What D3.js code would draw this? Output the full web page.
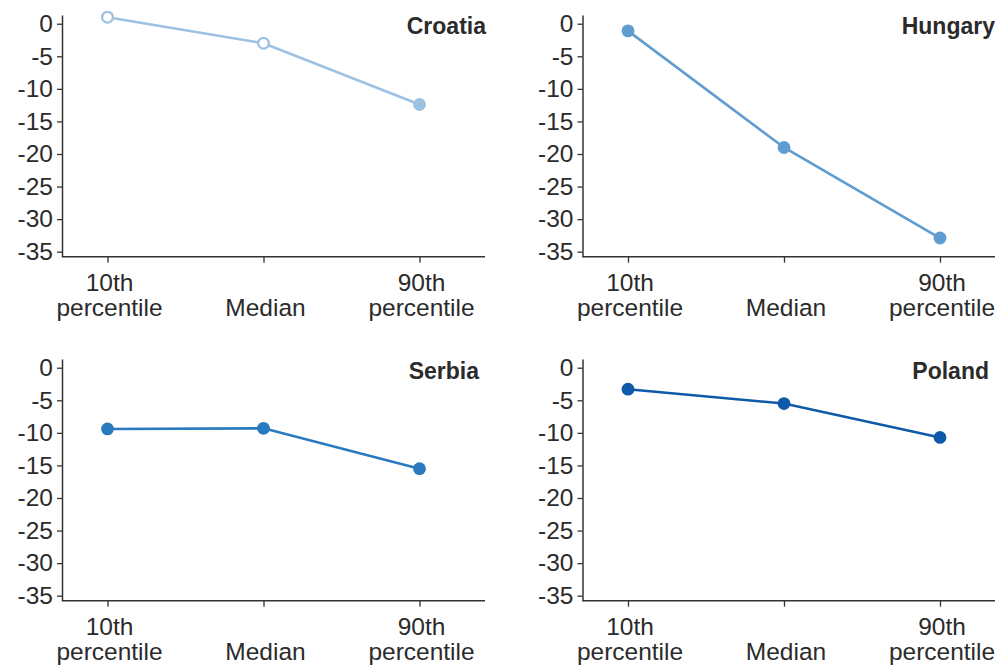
<!DOCTYPE html>
<html>
<head>
<meta charset="utf-8">
<script src="https://cdn.jsdelivr.net/npm/d3@7"></script>
<style>
  body { margin: 0; background: #fff; }
  text { font-family: "Liberation Sans", Arial, sans-serif; fill: #2b2b2b; }
</style>
</head>
<body>
<script>
// data
var countries = ["Croatia", "Hungary", "Serbia", "Poland"];
var categories = ["10th percentile", "Median", "90th percentile"];
var croatia = [1.0, -3.0, -12.4];
var hungary = [-1.1, -19.0, -32.9];
var serbia = [-9.4, -9.3, -15.5];
var poland = [-3.3, -5.5, -10.7];
// which points are drawn hollow
var croatiaHollow = [true, true, false];
var noHollow = [false, false, false];
var yTicks = [0, -5, -10, -15, -20, -25, -30, -35];
var colors = ["#9cc1e2", "#5f9ccf", "#2a7abf", "#0f5aa8"];

var series = [croatia, hungary, serbia, poland];
var hollow = [croatiaHollow, noHollow, noHollow, noHollow];

var width = 995, height = 671;
var svg = d3.select("body").append("svg")
            .attr("width", width)
            .attr("height", height);

// panel layout
var panels = [
  { x: 62,    y: 0,   titleX: 486, titleY: 34 },
  { x: 582.5, y: 0,   titleX: 995, titleY: 34 },
  { x: 62,    y: 344, titleX: 479, titleY: 379 },
  { x: 582.5, y: 344, titleX: 989, titleY: 379 }
];
var panelW = 423;

panels.forEach(function(p, i) {
  var g = svg.append("g").attr("transform", "translate(" + p.x + "," + p.y + ")");

  var x = d3.scalePoint().domain(categories).range([45.5, 357.5]);
  var y = d3.scaleLinear().domain([-35.77, 1.34]).range([256.7, 15]);

  // y axis (plain hyphen for negatives)
  var yAxis = g.append("g")
      .call(d3.axisLeft(y).tickValues(yTicks).tickSize(5).tickPadding(4).tickSizeOuter(0)
              .tickFormat(function(d) { return String(d); }));
  yAxis.select(".domain").attr("stroke", "#333").attr("stroke-width", 1.5);
  yAxis.selectAll(".tick line").attr("stroke", "#333").attr("stroke-width", 1.3);
  yAxis.selectAll(".tick text")
      .attr("font-size", "24.5px")
      .attr("font-family", "'Liberation Sans', Arial, sans-serif")
      .attr("fill", "#2b2b2b");

  // x axis
  var xAxis = g.append("g")
      .attr("transform", "translate(0,256.7)")
      .call(d3.axisBottom(x).tickSize(6).tickSizeOuter(0).tickFormat(""));
  xAxis.select(".domain").attr("d", "M0,0H" + panelW).attr("stroke", "#333").attr("stroke-width", 1.5);
  xAxis.selectAll(".tick line").attr("stroke", "#333").attr("stroke-width", 1.3);

  // x labels, two lines
  categories.forEach(function(c) {
    var words = c.split(" ");
    var lines = words.length > 1 ? words : ["", c];
    var t = g.append("text")
        .attr("text-anchor", "middle")
        .attr("font-size", "24.5px");
    lines.forEach(function(l, k) {
      t.append("tspan")
        .attr("x", x(c) + 2)
        .attr("y", 291 + k * 25)
        .text(l);
    });
  });

  // line + points
  var line = d3.line()
      .x(function(d, k) { return x(categories[k]); })
      .y(function(d) { return y(d); });

  g.append("path")
      .datum(series[i])
      .attr("d", line)
      .attr("fill", "none")
      .attr("stroke", colors[i])
      .attr("stroke-width", 2.6);

  g.selectAll("circle.pt")
      .data(series[i])
      .enter()
    .append("circle")
      .attr("class", "pt")
      .attr("cx", function(d, k) { return x(categories[k]); })
      .attr("cy", function(d) { return y(d); })
      .attr("r", function(d, k) { return hollow[i][k] ? 5.4 : 6.4; })
      .attr("fill", function(d, k) { return hollow[i][k] ? "#fff" : colors[i]; })
      .attr("stroke", colors[i])
      .attr("stroke-width", function(d, k) { return hollow[i][k] ? 2.2 : 0; });

  // country title
  svg.append("text")
      .attr("x", p.titleX)
      .attr("y", p.titleY)
      .attr("text-anchor", "end")
      .attr("font-size", "23px")
      .attr("font-family", "'Open Sans', 'Liberation Sans', sans-serif")
      .attr("font-weight", "600")
      .attr("fill", "#222")
      .text(countries[i]);
});
</script>
</body>
</html>
